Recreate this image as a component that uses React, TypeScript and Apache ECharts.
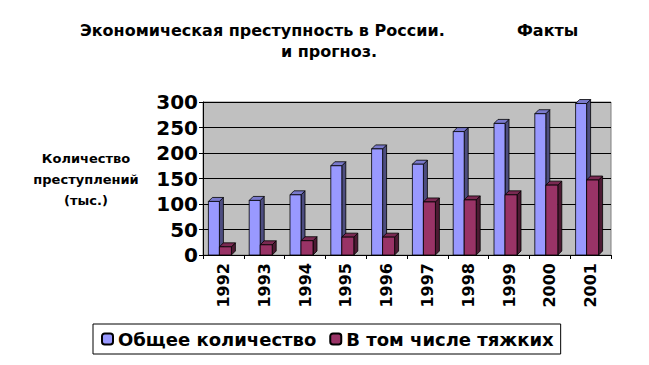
import React, { useEffect, useRef } from "react";
import * as echarts from "echarts";

const years = ["1992", "1993", "1994", "1995", "1996", "1997", "1998", "1999", "2000", "2001"];
const totalCrimes = [105, 107, 118, 175, 208, 178, 242, 258, 277, 297];
const graveCrimes = [16, 20, 28, 35, 35, 104, 108, 118, 137, 147];
const yTicks = { min: 0, max: 300, interval: 50 };
const seriesNames = ["Общее количество", "В том числе тяжких"];

const FONT = "'DejaVu Sans', sans-serif";

function makeRender(offset: number, width: number, front: string, side: string, top: string) {
  return (params: any, api: any) => {
    const c = api.coord([api.value(0), api.value(1)]);
    const b = api.coord([api.value(0), 0]);
    const x = c[0] + offset;
    const yT = c[1];
    const y0 = b[1];
    const d = 4;
    const st = { stroke: "#000", lineWidth: 0.8 };
    return {
      type: "group",
      children: [
        {
          type: "polygon",
          shape: { points: [[x + width, yT], [x + width + d, yT - d], [x + width + d, y0 - d], [x + width, y0]] },
          style: { fill: side, ...st },
        },
        {
          type: "polygon",
          shape: { points: [[x, yT], [x + d, yT - d], [x + width + d, yT - d], [x + width, yT]] },
          style: { fill: top, ...st },
        },
        {
          type: "rect",
          shape: { x, y: yT, width, height: y0 - yT },
          style: { fill: front, ...st },
        },
      ],
    };
  };
}

export default function App() {
  const ref = useRef<HTMLDivElement>(null);
  useEffect(() => {
    if (!ref.current) return;
    const chart = echarts.init(ref.current, undefined, { renderer: "svg" });
    const titleStyle = { color: "#000", fontWeight: "bold", fontSize: 16, fontFamily: FONT };
    chart.setOption({
      animation: false,
      backgroundColor: "#fff",
      title: [
        { text: "Экономическая преступность в России.", left: 75, top: 17, textStyle: titleStyle },
        { text: "Факты", left: 512, top: 17, textStyle: titleStyle },
        { text: "и прогноз.", left: 324, top: 38, textAlign: "center", textStyle: titleStyle },
        {
          text: "Количество\nпреступлений\n(тыс.)",
          left: 81,
          top: 143,
          textAlign: "center",
          textStyle: { color: "#000", fontWeight: "bold", fontSize: 13, lineHeight: 21, fontFamily: FONT },
        },
      ],
      legend: {
        left: 93,
        top: 324,
        padding: [6, 7, 6, 8],
        itemGap: 13,
        itemWidth: 11,
        itemHeight: 11,
        borderColor: "#000",
        borderWidth: 1,
        textStyle: { color: "#000", fontWeight: "bold", fontSize: 18, fontFamily: FONT },
        data: seriesNames,
      },
      grid: {
        left: 203,
        right: 38,
        top: 102,
        bottom: 110,
        show: true,
        backgroundColor: "#c0c0c0",
        borderColor: "#808080",
        borderWidth: 1,
      },
      xAxis: {
        type: "category",
        data: years,
        axisLine: { show: true, lineStyle: { color: "#000", width: 1 } },
        axisTick: { show: true, length: 4, lineStyle: { color: "#000" } },
        axisLabel: { rotate: 90, margin: 8, color: "#000", fontWeight: "bold", fontSize: 16, fontFamily: FONT },
      },
      yAxis: {
        type: "value",
        min: yTicks.min,
        max: yTicks.max,
        interval: yTicks.interval,
        axisLine: { show: true, lineStyle: { color: "#000" } },
        axisTick: { show: true, length: 4, lineStyle: { color: "#000" } },
        axisLabel: { margin: 5, color: "#000", fontWeight: "bold", fontSize: 20, fontFamily: FONT },
        splitLine: { show: true, lineStyle: { color: "#000", width: 1 } },
      },
      series: [
        {
          name: seriesNames[0],
          type: "custom",
          renderItem: makeRender(-15, 11, "#9999ff", "#4d4d80", "#7a7acc"),
          itemStyle: { color: "#9999ff", borderColor: "#000", borderWidth: 1 },
          encode: { x: 0, y: 1 },
          data: totalCrimes.map((v, i) => [i, v]),
          z: 3,
        },
        {
          name: seriesNames[1],
          type: "custom",
          renderItem: makeRender(-4, 12, "#993366", "#4d1a33", "#7a2952"),
          itemStyle: { color: "#993366", borderColor: "#000", borderWidth: 1 },
          encode: { x: 0, y: 1 },
          data: graveCrimes.map((v, i) => [i, v]),
          z: 4,
        },
      ],
    });
    return () => chart.dispose();
  }, []);
  return <div ref={ref} style={{ width: 649, height: 365, position: "absolute", left: 0, top: 0 }} />;
}
